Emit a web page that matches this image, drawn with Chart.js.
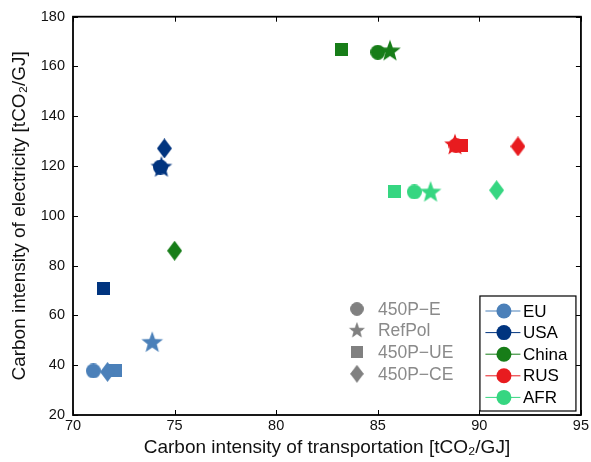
<!DOCTYPE html>
<html>
<head>
<meta charset="utf-8">
<script src="https://cdn.jsdelivr.net/npm/chart.js@4.4.0/dist/chart.umd.min.js"></script>
<style>
    html, body { margin: 0; padding: 0; background: #fff; }
    #wrap { width: 591px; height: 462px; position: relative; }
</style>
</head>
<body>
<div id="wrap"><canvas id="chart"></canvas></div>
<script>
// --- Data ---
const regions = ['EU', 'USA', 'China', 'RUS', 'AFR'];
const scenarios = ['450P\u2212E', 'RefPol', '450P\u2212UE', '450P\u2212CE'];
const markerShapes = ['circle', 'star', 'square', 'diamond'];
const regionColors = ['#4b80b9', '#00347f', '#177d18', '#e81b1f', '#36d681'];

// point order in every region: 450P-E, RefPol, 450P-UE, 450P-CE
const euTransport = [71.0, 73.9, 72.1, 71.7];
const euElectricity = [37.7, 49.0, 38.0, 37.3];
const usaTransport = [74.3, 74.35, 71.5, 74.5];
const usaElectricity = [119.6, 119.4, 70.9, 127.1];
const chinaTransport = [85.0, 85.6, 83.2, 75.0];
const chinaElectricity = [165.7, 166.1, 166.7, 86.0];
const rusTransport = [88.85, 88.8, 89.1, 91.9];
const rusElectricity = [128.3, 128.4, 128.4, 127.9];
const afrTransport = [86.8, 87.6, 85.8, 90.85];
const afrElectricity = [109.6, 109.4, 109.6, 110.3];

const xTicks = [70, 75, 80, 85, 90, 95];
const yTicks = [20, 40, 60, 80, 100, 120, 140, 160, 180];

const transportByRegion = [euTransport, usaTransport, chinaTransport, rusTransport, afrTransport];
const electricityByRegion = [euElectricity, usaElectricity, chinaElectricity, rusElectricity, afrElectricity];

const fontFamily = "'Liberation Sans', Arial, Helvetica, sans-serif";

// Marker images (filled, like the MATLAB markers)
function makeMarker(shape, color) {
    const c = document.createElement('canvas');
    let w = 15, h = 15;
    if (shape === 'star') { w = 24; h = 24; }
    if (shape === 'square') { w = 13; h = 13; }
    if (shape === 'diamond') { w = 15; h = 20; }
    c.width = w;
    c.height = h;
    const ctx = c.getContext('2d');
    ctx.fillStyle = color;
    ctx.beginPath();
    if (shape === 'circle') {
        ctx.arc(w / 2, h / 2, 7.5, 0, Math.PI * 2);
    } else if (shape === 'square') {
        ctx.rect(0, 0, w, h);
    } else if (shape === 'diamond') {
        ctx.moveTo(w / 2, 0);
        ctx.lineTo(w, h / 2);
        ctx.lineTo(w / 2, h);
        ctx.lineTo(0, h / 2);
        ctx.closePath();
    } else if (shape === 'star') {
        const R = 11.4, r = R * 0.42;
        for (let k = 0; k < 10; k++) {
            const a = -Math.PI / 2 + k * Math.PI / 5;
            const rad = k % 2 === 0 ? R : r;
            const px = w / 2 + rad * Math.cos(a);
            const py = h / 2 + rad * Math.sin(a);
            if (k === 0) ctx.moveTo(px, py); else ctx.lineTo(px, py);
        }
        ctx.closePath();
    }
    ctx.fill();
    return c;
}

const grayMarkers = markerShapes.map(s => makeMarker(s, '#808080'));

// Frame with inward ticks on all four sides
const framePlugin = {
    id: 'frame',
    beforeDatasetsDraw(chart) {
        const { ctx, chartArea: a, scales } = chart;
        ctx.save();
        ctx.strokeStyle = '#000';
        ctx.lineWidth = 1;
        xTicks.forEach(v => {
            const px = Math.round(scales.x.getPixelForValue(v)) + 0.5;
            ctx.beginPath();
            ctx.moveTo(px, a.bottom); ctx.lineTo(px, a.bottom - 5);
            ctx.moveTo(px, a.top); ctx.lineTo(px, a.top + 5);
            ctx.stroke();
        });
        yTicks.forEach(v => {
            const py = Math.round(scales.y.getPixelForValue(v)) + 0.5;
            ctx.beginPath();
            ctx.moveTo(a.left, py); ctx.lineTo(a.left + 5, py);
            ctx.moveTo(a.right, py); ctx.lineTo(a.right - 5, py);
            ctx.stroke();
        });
        ctx.lineWidth = 1.8;
        ctx.strokeRect(a.left, a.top, a.right - a.left, a.bottom - a.top);
        ctx.restore();
    },
    afterDraw(chart) {
        const { ctx, chartArea: a } = chart;
        ctx.save();
        ctx.textBaseline = 'middle';
        ctx.textAlign = 'left';

        // Scenario (marker) legend
        ctx.font = `17.5px ${fontFamily}`;
        ctx.fillStyle = '#8a8a8a';
        scenarios.forEach((label, i) => {
            const my = a.bottom - 106 + i * 21.6;
            const img = grayMarkers[i];
            const mx = a.right - 224;
            const scale = i === 1 ? 0.75 : 0.9;
            ctx.drawImage(img, mx - img.width * scale / 2, my - img.height * scale / 2, img.width * scale, img.height * scale);
            ctx.fillText(label, a.right - 203, my + 1);
        });

        // Region legend box
        ctx.font = `17px ${fontFamily}`;
        const bx = a.right - 101, by = a.bottom - 119, bw = 96, bh = 115;
        ctx.fillStyle = '#fff';
        ctx.fillRect(bx, by, bw, bh);
        ctx.strokeStyle = '#000';
        ctx.lineWidth = 1.2;
        ctx.strokeRect(bx, by, bw, bh);
        regions.forEach((name, i) => {
            const ly = by + 15 + i * 21.6;
            ctx.strokeStyle = regionColors[i];
            ctx.lineWidth = 1;
            ctx.beginPath();
            ctx.moveTo(bx + 5.5, ly);
            ctx.lineTo(bx + 40.5, ly);
            ctx.stroke();
            ctx.fillStyle = regionColors[i];
            ctx.beginPath();
            ctx.arc(bx + 24, ly, 7.5, 0, Math.PI * 2);
            ctx.fill();
            ctx.fillStyle = '#000';
            ctx.fillText(name, bx + 43, ly + 1);
        });
        ctx.restore();
    }
};

document.addEventListener('DOMContentLoaded', () => {
    const datasets = regions.map((name, i) => ({
        label: name,
        data: transportByRegion[i].map((x, j) => ({ x: x, y: electricityByRegion[i][j] })),
        pointStyle: markerShapes.map(s => makeMarker(s, regionColors[i])),
        pointRadius: 8,
        pointHoverRadius: 8,
        backgroundColor: regionColors[i],
        borderColor: regionColors[i],
        showLine: false
    }));

    new Chart(document.getElementById('chart'), {
        type: 'scatter',
        data: { datasets: datasets },
        options: {
            responsive: true,
            maintainAspectRatio: false,
            animation: false,
            layout: { padding: { top: 14, right: 9, left: 0, bottom: 0 } },
            plugins: {
                legend: { display: false },
                tooltip: { enabled: false }
            },
            scales: {
                x: {
                    type: 'linear',
                    min: 70,
                    max: 95,
                    afterBuildTicks: (scale) => { scale.ticks = xTicks.map(v => ({ value: v })); },
                    afterFit: (scale) => { scale.height = 47; },
                    grid: { display: false, drawTicks: false },
                    border: { display: false },
                    ticks: { color: '#111', font: { size: 14.5, family: fontFamily }, padding: 2, maxRotation: 0 },
                    title: {
                        display: true,
                        text: 'Carbon intensity of transportation [tCO\u2082/GJ]',
                        color: '#111',
                        font: { size: 19, family: fontFamily },
                        padding: { top: 0, bottom: 2.5 }
                    }
                },
                y: {
                    type: 'linear',
                    min: 20,
                    max: 180,
                    afterBuildTicks: (scale) => { scale.ticks = yTicks.map(v => ({ value: v })); },
                    afterFit: (scale) => { scale.width = 73; },
                    grid: { display: false, drawTicks: false },
                    border: { display: false },
                    ticks: { color: '#111', font: { size: 14.5, family: fontFamily }, padding: 8 },
                    title: {
                        display: true,
                        text: 'Carbon intensity of electricity [tCO\u2082/GJ]',
                        color: '#111',
                        font: { size: 19, family: fontFamily },
                        padding: { top: 8, bottom: 0 }
                    }
                }
            }
        },
        plugins: [framePlugin]
    });
});
</script>
</body>
</html>
